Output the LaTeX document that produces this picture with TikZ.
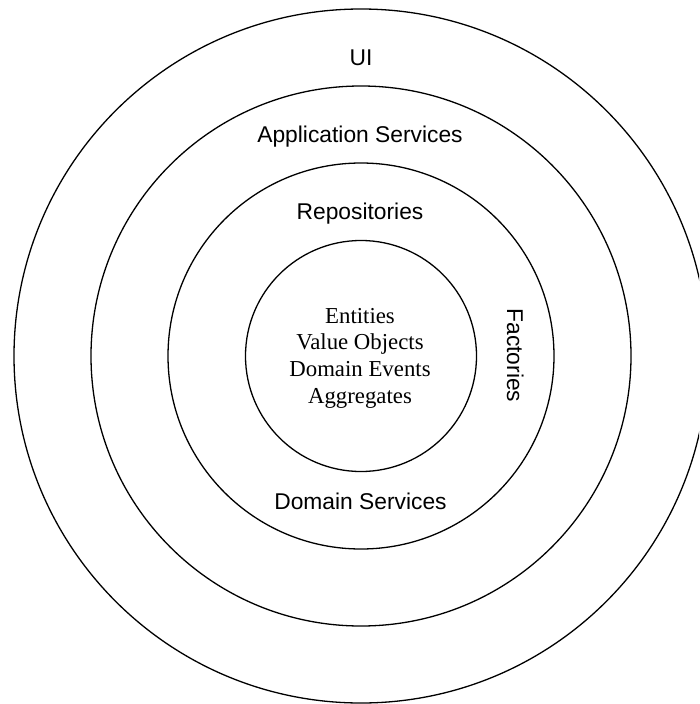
\documentclass[tikz,border=0pt]{standalone}
\usepackage{fontspec}
\setmainfont{Liberation Serif}
\setsansfont{Liberation Sans}
\begin{document}
\begin{tikzpicture}[x=1pt,y=-1pt,
  ring/.style={circle,draw=black,line width=1.3pt,inner sep=0pt,outer sep=0pt,minimum size=#1},
  lbl/.style={font=\sffamily\fontsize{22.8}{26.7}\selectfont,inner sep=0pt,anchor=base},
  core/.style={font=\rmfamily\fontsize{22.8}{26.7}\selectfont,inner sep=0pt,align=center}]
\useasboundingbox (0,0) rectangle (699,704);
\clip (0,0) rectangle (699,704);
\coordinate (c) at (361,356);
\node[ring=694pt] (ui) at (c) {};
\node[ring=540pt] (app) at (c) {};
\node[ring=386pt] (dom) at (c) {};
\node[ring=231pt] (model) at (c) {};
\node[lbl] (uitext) at (361,65) {UI};
\node[lbl] (apptext) at (360,142.7) {Application Services};
\node[lbl] (repo) at (360,219) {Repositories};
\node[lbl] (dsvc) at (360.5,509) {Domain Services};
\node[lbl,rotate=-90] (fact) at (507,355.5) {Factories};
\node[core] (coretext) at (360,358) {Entities\\Value Objects\\Domain Events\\Aggregates};
\end{tikzpicture}
\end{document}
